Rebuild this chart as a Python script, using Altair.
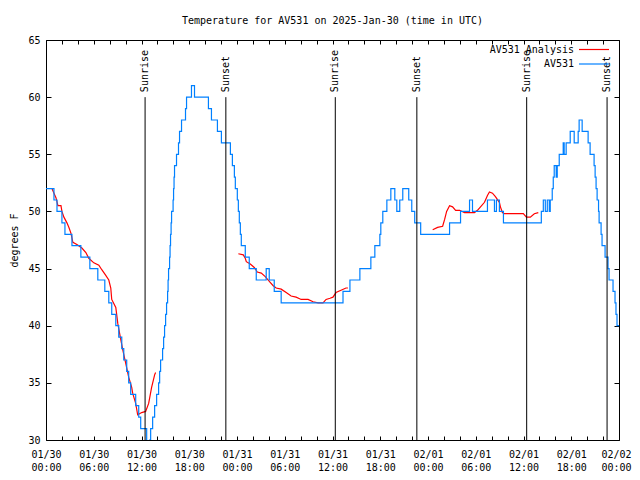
import json
import altair as alt
import pandas as pd

FONT = "DejaVu Sans Mono"

title_text = "Temperature for AV531 on 2025-Jan-30 (time in UTC)"
y_title = "degrees F"
series_names = ["AV531 Analysis", "AV531"]
series_colors = ["#ff0000", "#0080ff"]

# AV531 observations: hours since 2025-01-30 00:00 UTC, temperature (degF), held until next reading
obs_hours = [0.00, 1.00, 1.38, 2.00, 2.38, 3.26, 4.38, 5.51, 6.51, 7.39, 7.89, 8.26, 8.77, 9.14,
             9.52, 9.77, 10.14, 10.39, 10.64, 11.27, 11.65, 11.90, 12.65, 13.02, 13.15, 13.40,
             13.65, 13.90, 14.15, 14.28, 14.40, 14.65, 14.78, 14.90, 15.03, 15.15, 15.28, 15.34,
             15.40, 15.53, 15.59, 15.65, 15.72, 15.78, 15.97, 16.03, 16.09, 16.15, 16.40, 16.65,
             16.78, 17.03, 17.53, 17.66, 18.28, 18.66, 20.41, 20.79, 21.54, 22.04, 23.17, 23.42,
             23.67, 23.79, 24.04, 24.17, 24.29, 24.42, 24.54, 25.04, 25.54, 26.42, 27.67, 28.05,
             28.68, 29.55, 37.32, 38.19, 39.44, 40.82, 41.32, 41.95, 42.07, 42.32, 42.83, 43.33,
             43.83, 44.08, 44.45, 44.83, 45.58, 45.96, 46.33, 47.08, 50.71, 52.09, 53.22, 53.59,
             55.47, 56.35, 56.60, 56.97, 57.48, 62.24, 62.49, 62.74, 62.99, 63.24, 63.36, 63.61,
             63.74, 63.86, 64.11, 64.24, 64.49, 64.99, 65.11, 65.36, 65.87, 66.37, 66.87, 66.99,
             67.37, 68.12, 68.37, 68.87, 69.00, 69.12, 69.25, 69.43, 69.50, 69.75, 69.87, 70.25,
             70.62, 70.75, 71.25, 71.50, 71.62, 71.75, 72.00]
obs_temps = [52, 51, 50, 49, 48, 47, 46, 45, 44, 43, 42, 41, 40, 39,
             38, 37, 36, 35, 34, 33, 32, 31, 29, 30, 31, 32,
             33, 34, 35, 36, 37, 38, 39, 40, 41, 42, 43, 44,
             45, 46, 47, 48, 49, 50, 51, 52, 53, 54, 55, 56,
             57, 58, 59, 60, 61, 60, 59, 58, 57, 56, 55, 54,
             53, 52, 51, 50, 49, 48, 47, 46, 45, 44, 45, 44,
             43, 42, 43, 44, 45, 46, 47, 48, 49, 50, 51, 52,
             51, 50, 51, 52, 51, 50, 49, 48, 49, 50, 51, 50,
             51, 50, 51, 50, 49, 50, 51, 50, 51, 50, 51, 52,
             53, 54, 53, 54, 55, 56, 55, 56, 57, 56, 57, 58,
             57, 56, 55, 54, 53, 52, 51, 50, 49, 48, 47, 46,
             45, 44, 43, 42, 41, 40, 40]

# AV531 Analysis, three separate runs
ana1_hours = [0.75, 1.00, 1.25, 1.50, 1.88, 2.00, 2.25, 2.63, 2.88, 3.13, 3.38, 3.88, 4.51, 5.01,
              5.38, 6.01, 6.64, 7.01, 7.51, 7.89, 8.14, 8.26, 8.77, 9.02, 9.39, 9.64, 10.02,
              10.39, 10.77, 10.89, 11.27, 11.52, 12.02, 12.52, 12.90, 13.27, 13.65, 13.77]
ana1_temps = [52.0, 51.6, 51.2, 50.5, 50.5, 50.0, 49.5, 49.0, 48.6, 48.1, 47.3, 47.1, 46.8, 46.4,
              45.9, 45.5, 45.3, 44.9, 44.4, 44.0, 43.3, 42.3, 41.6, 40.2, 38.8, 37.9, 36.7,
              35.5, 34.6, 34.1, 33.2, 32.2, 32.4, 32.5, 33.2, 34.6, 35.7, 35.9]
ana2_hours = [24.17, 24.79, 25.04, 25.17, 25.67, 26.17, 26.55, 27.05, 27.55, 28.17, 28.55, 28.93,
              29.55, 30.18, 30.80, 31.43, 32.06, 32.93, 33.56, 34.19, 34.81, 35.19, 35.69, 36.06,
              36.44, 37.07, 37.69, 37.94]
ana2_temps = [46.3, 46.2, 45.9, 45.6, 45.4, 45.1, 44.7, 44.6, 44.3, 43.8, 43.5, 43.3,
              43.2, 42.9, 42.6, 42.5, 42.3, 42.3, 42.1, 42.0, 42.0, 42.3, 42.4, 42.5,
              42.9, 43.1, 43.3, 43.3]
ana3_hours = [48.59, 49.21, 49.84, 50.09, 50.34, 50.71, 51.09, 51.47, 51.97, 52.59, 53.84, 54.22,
              54.60, 55.10, 55.47, 55.72, 56.10, 56.47, 56.97, 57.10, 57.35, 57.60, 58.23, 59.23,
              59.98, 60.36, 60.86, 61.36, 61.86]
ana3_temps = [48.4, 48.6, 48.7, 49.3, 50.0, 50.5, 50.4, 50.1, 50.1, 49.9, 49.9, 50.1,
              50.4, 50.8, 51.4, 51.7, 51.6, 51.3, 50.8, 50.4, 49.9, 49.8, 49.8, 49.8,
              49.8, 49.5, 49.5, 49.8, 49.9]

sun_hours = [12.45, 22.6, 36.35, 46.6, 60.4, 70.5]
sun_labels = ["Sunrise", "Sunset", "Sunrise", "Sunset", "Sunrise", "Sunset"]

x_tick_dates = ["01/30", "01/30", "01/30", "01/30", "01/31", "01/31", "01/31", "01/31",
                "02/01", "02/01", "02/01", "02/01", "02/02"]
x_tick_times = ["00:00", "06:00", "12:00", "18:00", "00:00", "06:00", "12:00", "18:00",
                "00:00", "06:00", "12:00", "18:00", "00:00"]
x_tick_values = list(range(0, 73, 2))
y_tick_values = [30, 35, 40, 45, 50, 55, 60, 65]

obs_df = pd.DataFrame({"hour": obs_hours, "temp": obs_temps})
ana_df = pd.concat([
    pd.DataFrame({"hour": ana1_hours, "temp": ana1_temps, "seg": 1}),
    pd.DataFrame({"hour": ana2_hours, "temp": ana2_temps, "seg": 2}),
    pd.DataFrame({"hour": ana3_hours, "temp": ana3_temps, "seg": 3}),
])
sun_df = pd.DataFrame({"hour": sun_hours, "label": sun_labels})

x_scale = alt.Scale(domain=[0, 72], nice=False, zero=False)
y_scale = alt.Scale(domain=[30, 65], nice=False, zero=False)

label_expr = ("datum.value % 6 == 0 ? [" + json.dumps(x_tick_dates) + "[round(datum.value / 6)], "
              + json.dumps(x_tick_times) + "[round(datum.value / 6)]] : ''")

x_axis = alt.Axis(values=x_tick_values, labelExpr=label_expr, title=None, grid=False, domain=False,
                  offset=-4, tickSize=4, tickColor="black", labelPadding=9, labelFont=FONT,
                  labelFontSize=10, labelColor="black", labelOverlap=False, labelFlush=False,
                  labelBound=False, labelLineHeight=13, labelAngle=0, labelAlign="center",
                  labelBaseline="top", orient="bottom",
                  labelOffset={"condition": {"test": "datum.value >= 72", "value": -3}, "value": 0})
y_axis = alt.Axis(values=y_tick_values, format="d", title=y_title, grid=False, domain=False,
                  offset=-5, tickSize=5, tickColor="black", labelPadding=6, labelFont=FONT,
                  labelFontSize=10, labelColor="black", titleFont=FONT, titleFontSize=10,
                  titleFontWeight="normal", titleColor="black", titlePadding=8, orient="left")
top_axis = alt.Axis(values=x_tick_values, labels=False, title=None, grid=False, domain=False,
                    offset=-4, tickSize=4, tickColor="black", orient="top")
right_axis = alt.Axis(values=y_tick_values, labels=False, title=None, grid=False, domain=False,
                      offset=-5, tickSize=5, tickColor="black", orient="right")

analysis = alt.Chart(ana_df).mark_line(color=series_colors[0], strokeWidth=1.2, clip=True).encode(
    x=alt.X("hour:Q", scale=x_scale, axis=None),
    y=alt.Y("temp:Q", scale=y_scale, axis=None),
    detail="seg:N",
)
obs = alt.Chart(obs_df).mark_line(color=series_colors[1], strokeWidth=1.2, interpolate="step-after",
                                  clip=True).encode(
    x=alt.X("hour:Q", scale=x_scale, axis=x_axis),
    y=alt.Y("temp:Q", scale=y_scale, axis=y_axis),
)
sun_rules = alt.Chart(sun_df).mark_rule(color="black", strokeWidth=1).encode(
    x=alt.X("hour:Q", scale=x_scale, axis=top_axis),
    y=alt.YDatum(30, scale=y_scale, axis=right_axis),
    y2=alt.Y2Datum(60),
)
sun_text = alt.Chart(sun_df).mark_text(angle=270, align="left", baseline="middle", dx=5, font=FONT,
                                       fontSize=10, color="black").encode(
    x=alt.X("hour:Q", scale=x_scale, axis=None),
    y=alt.YDatum(60, scale=y_scale, axis=None),
    text="label:N",
)

legend_layers = []
for i, name in enumerate(series_names):
    ldf = pd.DataFrame({"name": [name]})
    yy = 9.5 + 14.5 * i
    legend_layers.append(alt.Chart(ldf).mark_text(align="right", baseline="middle", font=FONT,
                                                  fontSize=10, color="black").encode(
        x=alt.value(528), y=alt.value(yy), text="name:N"))
    legend_layers.append(alt.Chart(ldf).mark_rule(color=series_colors[i], strokeWidth=1.2).encode(
        x=alt.value(533), x2=alt.value(563), y=alt.value(yy)))

chart = alt.layer(analysis, obs, sun_rules, sun_text, *legend_layers).properties(
    width=573, height=400,
    title=alt.Title(title_text, font=FONT, fontSize=10, fontWeight="normal", anchor="middle",
                    frame="group", offset=9, color="black"),
    autosize=alt.AutoSizeParams(type="none"),
    padding={"left": 38, "top": 32, "right": 13, "bottom": 32},
).resolve_axis(x="independent", y="independent").configure_view(stroke="black", strokeWidth=1)

chart.save("out.html", embed_options={"renderer": "svg", "actions": False})
